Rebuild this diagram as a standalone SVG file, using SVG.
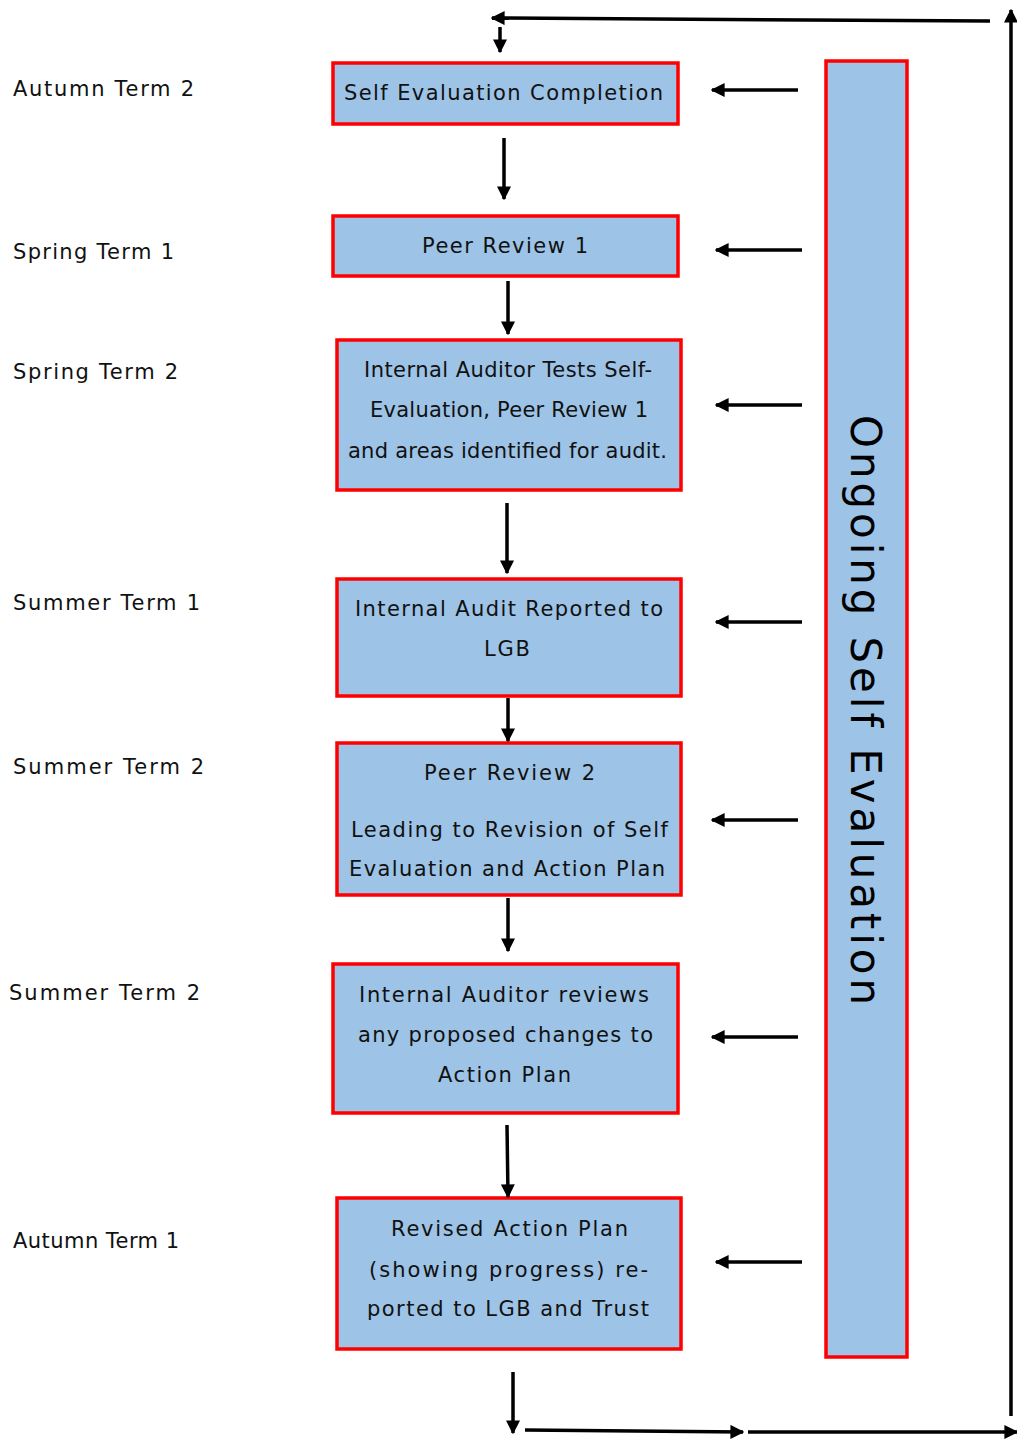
<svg xmlns="http://www.w3.org/2000/svg" width="1017" height="1441" viewBox="0 0 1017 1441">
<style>
.box{fill:#9DC3E6;stroke:#FF0000;stroke-width:3.5}
.t{font-family:"DejaVu Sans",sans-serif;font-size:21px;fill:#111}
.c{text-anchor:middle}
.ln{stroke:#000;stroke-width:3.5;fill:none}
</style>
<defs>
<marker id="ah" viewBox="0 0 10 10" refX="9" refY="5" markerWidth="4" markerHeight="4" orient="auto" markerUnits="strokeWidth">
<path d="M0,0 L10,5 L0,10 z" fill="#000"/>
</marker>
</defs>
<rect width="1017" height="1441" fill="#fff"/>
<g id="labels">
<text class="t" x="13" y="96" textLength="181" lengthAdjust="spacing">Autumn Term 2</text>
<text class="t" x="13" y="259" textLength="161" lengthAdjust="spacing">Spring Term 1</text>
<text class="t" x="13" y="379" textLength="165" lengthAdjust="spacing">Spring Term 2</text>
<text class="t" x="13" y="610" textLength="187" lengthAdjust="spacing">Summer Term 1</text>
<text class="t" x="13" y="774" textLength="191" lengthAdjust="spacing">Summer Term 2</text>
<text class="t" x="9" y="1000" textLength="191" lengthAdjust="spacing">Summer Term 2</text>
<text class="t" x="13" y="1248" textLength="166" lengthAdjust="spacing">Autumn Term 1</text>
</g>
<g id="n1"><rect class="box" x="333" y="63" width="345" height="61"/>
<text class="t" x="344" y="100" textLength="319" lengthAdjust="spacing">Self Evaluation Completion</text></g>
<g id="n2"><rect class="box" x="333" y="216" width="345" height="60"/>
<text class="t" x="422" y="253" textLength="166" lengthAdjust="spacing">Peer Review 1</text></g>
<g id="n3"><rect class="box" x="337" y="340" width="344" height="150"/>
<text class="t" x="364" y="377" textLength="288" lengthAdjust="spacing">Internal Auditor Tests Self-</text>
<text class="t" x="370" y="417" textLength="278" lengthAdjust="spacing">Evaluation, Peer Review 1</text>
<text class="t" x="348" y="458" textLength="319" lengthAdjust="spacing">and areas identified for audit.</text></g>
<g id="n4"><rect class="box" x="337" y="579" width="344" height="117"/>
<text class="t" x="355" y="616" textLength="308" lengthAdjust="spacing">Internal Audit Reported to</text>
<text class="t" x="484" y="656" textLength="46" lengthAdjust="spacing">LGB</text></g>
<g id="n5"><rect class="box" x="337" y="743" width="344" height="152"/>
<text class="t" x="424" y="780" textLength="171" lengthAdjust="spacing">Peer Review 2</text>
<text class="t" x="351" y="837" textLength="317" lengthAdjust="spacing">Leading to Revision of Self</text>
<text class="t" x="349" y="876" textLength="316" lengthAdjust="spacing">Evaluation and Action Plan</text></g>
<g id="n6"><rect class="box" x="333" y="964" width="345" height="149"/>
<text class="t" x="359" y="1002" textLength="290" lengthAdjust="spacing">Internal Auditor reviews</text>
<text class="t" x="358" y="1042" textLength="295" lengthAdjust="spacing">any proposed changes to</text>
<text class="t" x="438" y="1082" textLength="133" lengthAdjust="spacing">Action Plan</text></g>
<g id="n7"><rect class="box" x="337" y="1198" width="344" height="151"/>
<text class="t" x="391" y="1236" textLength="237" lengthAdjust="spacing">Revised Action Plan</text>
<text class="t" x="369" y="1277" textLength="279" lengthAdjust="spacing">(showing progress) re-</text>
<text class="t" x="367" y="1316" textLength="282" lengthAdjust="spacing">ported to LGB and Trust</text></g>
<g id="ongoing"><rect class="box" x="826" y="61" width="81" height="1296"/>
<text font-family="DejaVu Sans, sans-serif" font-size="42" fill="#000" transform="translate(851,415) rotate(90)" textLength="590" lengthAdjust="spacing">Ongoing Self Evaluation</text></g>
<g id="connectors">
<line class="ln" x1="504" y1="138" x2="504" y2="199" marker-end="url(#ah)"/>
<line class="ln" x1="508" y1="281" x2="508" y2="334" marker-end="url(#ah)"/>
<line class="ln" x1="507" y1="503" x2="507" y2="573" marker-end="url(#ah)"/>
<line class="ln" x1="508" y1="698" x2="508" y2="741" marker-end="url(#ah)"/>
<line class="ln" x1="508" y1="898" x2="508" y2="951" marker-end="url(#ah)"/>
<line class="ln" x1="507" y1="1125" x2="508" y2="1197" marker-end="url(#ah)"/>
<line class="ln" x1="513" y1="1372" x2="513" y2="1433" marker-end="url(#ah)"/>
<line class="ln" x1="798" y1="90" x2="712" y2="90" marker-end="url(#ah)"/>
<line class="ln" x1="802" y1="250" x2="716" y2="250" marker-end="url(#ah)"/>
<line class="ln" x1="802" y1="405" x2="716" y2="405" marker-end="url(#ah)"/>
<line class="ln" x1="802" y1="622" x2="716" y2="622" marker-end="url(#ah)"/>
<line class="ln" x1="798" y1="820" x2="712" y2="820" marker-end="url(#ah)"/>
<line class="ln" x1="798" y1="1037" x2="712" y2="1037" marker-end="url(#ah)"/>
<line class="ln" x1="802" y1="1262" x2="716" y2="1262" marker-end="url(#ah)"/>
<line class="ln" x1="990" y1="21" x2="492" y2="18" marker-end="url(#ah)"/>
<line class="ln" x1="500" y1="27" x2="500" y2="52" marker-end="url(#ah)"/>
<line class="ln" x1="1011" y1="1416" x2="1011" y2="10" marker-end="url(#ah)"/>
<line class="ln" x1="525" y1="1430" x2="743" y2="1432" marker-end="url(#ah)"/>
<line class="ln" x1="748" y1="1432" x2="1017" y2="1432" marker-end="url(#ah)"/>
</g>
</svg>
